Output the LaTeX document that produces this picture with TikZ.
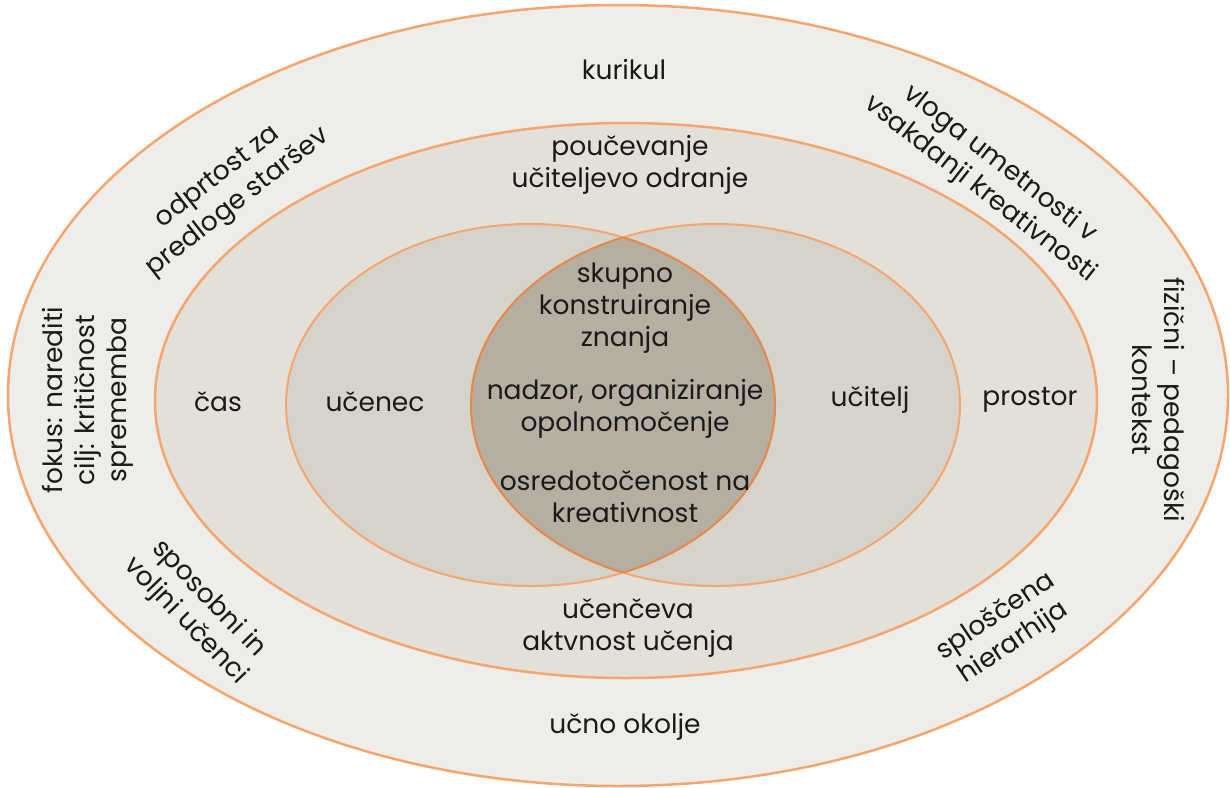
\documentclass[tikz,border=0pt]{standalone}
\usepackage{fontspec}
\setmainfont{Poppins}
\definecolor{fillA}{HTML}{EEEDE9}
\definecolor{fillB}{HTML}{E3E0D9}
\definecolor{fillC}{HTML}{D6D3CB}
\definecolor{fillD}{HTML}{B5AEA1}
\definecolor{ring}{HTML}{F5A66E}
\definecolor{lensline}{HTML}{E08A50}
\definecolor{ink}{HTML}{1A1A1A}
\tikzset{
  lbl/.style={font=\fontsize{26.5}{32}\selectfont, text=ink, align=center, inner sep=0pt},
  ringline/.style={draw=ring, line width=2.5pt},
}
\begin{document}
\begin{tikzpicture}[x=1pt,y=-1pt]
\useasboundingbox (0,0) rectangle (1230,787);
% rings
\path[ringline, fill=fillA] (618,395.5) ellipse [x radius=610, y radius=390.5];
\path[ringline, fill=fillB] (626,400.5) ellipse [x radius=471, y radius=277.5];
% inner two ellipses
\path[fill=fillC] (530.5,405) ellipse [x radius=244.5, y radius=181];
\path[fill=fillC] (715.5,405) ellipse [x radius=244.5, y radius=181];
\begin{scope}
  \clip (530.5,405) ellipse [x radius=244.5, y radius=181];
  \path[fill=fillD] (715.5,405) ellipse [x radius=244.5, y radius=181];
\end{scope}
\draw[draw=ring, line width=2pt] (530.5,405) ellipse [x radius=244.5, y radius=181];
\draw[draw=ring, line width=2pt] (715.5,405) ellipse [x radius=244.5, y radius=181];
\begin{scope}
  \clip (530.5,405) ellipse [x radius=244.5, y radius=181];
  \draw[draw=lensline, line width=2pt] (715.5,405) ellipse [x radius=244.5, y radius=181];
\end{scope}
\begin{scope}
  \clip (715.5,405) ellipse [x radius=244.5, y radius=181];
  \draw[draw=lensline, line width=2pt] (530.5,405) ellipse [x radius=244.5, y radius=181];
\end{scope}
% labels outer ring
\node[lbl] (kurikul) at (624,70) {kurikul};
\node[lbl, rotate=38] (odprtost) at (228,190) {odprtost za\\predloge staršev};
\node[lbl, rotate=-38] (vloga) at (990,177) {vloga umetnosti v\\vsakdanji kreativnosti};
\node[lbl, rotate=-90] (fizicni) at (1158,400) {fizični – pedagoški\\kontekst};
\node[lbl, rotate=90] (fokus) at (88,400) {fokus: narediti\\cilj: kritičnost\\sprememba};
\node[lbl, rotate=-46] (sposobni) at (197,610) {sposobni in\\voljni učenci};
\node[lbl, rotate=34] (splosc) at (1005,630) {sploščena\\hierarhija};
\node[lbl] (okolje) at (625,727) {učno okolje};
% second ring
\node[lbl] (poucevanje) at (630,165) {poučevanje\\učiteljevo odranje};
\node[lbl] (cas) at (218,402) {čas};
\node[lbl] (prostor) at (1030,400) {prostor};
\node[lbl] (aktivnost) at (628,628) {učenčeva\\aktvnost učenja};
% inner
\node[lbl] (ucenec) at (375,402) {učenec};
\node[lbl] (ucitelj) at (870,400) {učitelj};
\node[lbl] (skupno) at (625,308) {skupno\\konstruiranje\\znanja};
\node[lbl] (nadzor) at (625,409) {nadzor, organiziranje\\opolnomočenje};
\node[lbl] (osred) at (625,497) {osredotočenost na\\kreativnost};
\end{tikzpicture}
\end{document}
